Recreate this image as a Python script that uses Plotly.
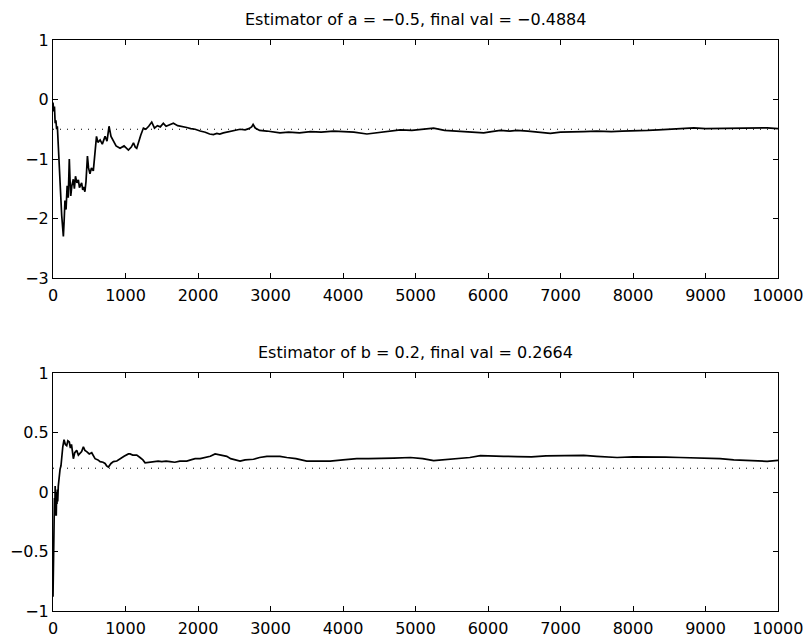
import plotly.graph_objects as go

# ---- data ----
iter_a = [0, 10, 20, 30, 40, 50, 60, 70, 80, 90, 100, 110, 120, 130, 143, 155, 165, 180, 195, 210,
          225, 235, 245, 260, 280, 295, 310, 330, 350, 365, 380, 395, 410, 425, 440, 455, 475, 490,
          510, 530, 556, 575, 600, 620, 650, 680, 718, 745, 773, 800, 833, 870, 925, 980, 1040,
          1080, 1110, 1135, 1155, 1180, 1210, 1247, 1280, 1320, 1362, 1400, 1440, 1480, 1522,
          1560, 1600, 1660, 1720, 1780, 1845, 1900, 1960, 2030, 2100, 2160, 2212, 2260, 2300,
          2350, 2397, 2450, 2500, 2580, 2650, 2700, 2740, 2760, 2790, 2850, 2950, 3050, 3130,
          3250, 3400, 3550, 3700, 3870, 4000, 4150, 4330, 4500, 4650, 4790, 4950, 5100, 5250,
          5400, 5550, 5700, 5850, 5940, 6050, 6170, 6300, 6400, 6550, 6700, 6860, 7000, 7150,
          7320, 7500, 7700, 7850, 8010, 8200, 8350, 8470, 8650, 8840, 9000, 9200, 9390, 9550,
          9700, 9850, 10000]
est_a = [-0.05, -0.2, -0.12, -0.40, -0.35, -0.50, -0.45, -0.75, -0.85, -1.05, -1.35, -1.70, -1.95,
         -2.10, -2.30, -2.00, -1.70, -1.85, -1.45, -1.65, -1.00, -1.35, -1.62, -1.45, -1.34, -1.50,
         -1.29, -1.40, -1.35, -1.48, -1.42, -1.40, -1.52, -1.47, -1.55, -1.38, -0.95, -1.15, -1.25,
         -1.15, -1.20, -0.95, -0.62, -0.72, -0.68, -0.75, -0.62, -0.70, -0.45, -0.62, -0.70, -0.78,
         -0.82, -0.78, -0.85, -0.80, -0.73, -0.80, -0.82, -0.70, -0.60, -0.48, -0.50, -0.45, -0.38,
         -0.48, -0.44, -0.46, -0.40, -0.45, -0.43, -0.40, -0.44, -0.45, -0.47, -0.49, -0.50, -0.53,
         -0.55, -0.58, -0.59, -0.57, -0.58, -0.56, -0.55, -0.54, -0.52, -0.50, -0.51, -0.49, -0.46,
         -0.42, -0.48, -0.52, -0.53, -0.55, -0.56, -0.55, -0.56, -0.54, -0.55, -0.53, -0.54, -0.55,
         -0.58, -0.55, -0.53, -0.51, -0.52, -0.50, -0.48, -0.52, -0.53, -0.54, -0.55, -0.56, -0.54,
         -0.52, -0.53, -0.52, -0.53, -0.55, -0.57, -0.55, -0.54, -0.54, -0.53, -0.54, -0.53, -0.53,
         -0.52, -0.51, -0.50, -0.49, -0.476, -0.49, -0.485, -0.48, -0.485, -0.48, -0.477, -0.4884]

iter_b = [0, 5, 10, 15, 20, 25, 30, 35, 40, 45, 50, 55, 60, 65, 73, 85, 97, 110, 120, 135, 152, 170,
          189, 205, 225, 240, 255, 268, 281, 300, 327, 350, 373, 395, 419, 440, 465, 500, 534, 560,
          580, 620, 650, 690, 718, 740, 764, 800, 833, 880, 925, 980, 1040, 1063, 1100, 1155, 1200,
          1240, 1270, 1320, 1385, 1450, 1500, 1560, 1615, 1680, 1750, 1845, 1900, 1960, 2030, 2100,
          2170, 2236, 2300, 2397, 2450, 2520, 2580, 2650, 2765, 2850, 2950, 3050, 3130, 3225, 3350,
          3500, 3650, 3823, 4000, 4190, 4350, 4515, 4700, 4930, 5100, 5250, 5400, 5570, 5750, 5895,
          6050, 6215, 6400, 6600, 6800, 6998, 7150, 7320, 7500, 7650, 7780, 8000, 8240, 8450, 8650,
          8840, 9000, 9200, 9390, 9600, 9850, 10000]
est_b = [-0.88, -0.60, -0.25, -0.35, -0.05, -0.20, 0.05, -0.15, -0.05, -0.20, 0.0, -0.10, 0.02, -0.08,
         0.05, 0.15, 0.19, 0.22, 0.30, 0.38, 0.44, 0.40, 0.39, 0.43, 0.42, 0.37, 0.40, 0.33, 0.28, 0.33,
         0.35, 0.31, 0.33, 0.34, 0.38, 0.35, 0.34, 0.32, 0.33, 0.30, 0.28, 0.27, 0.255, 0.25, 0.24,
         0.22, 0.21, 0.24, 0.255, 0.26, 0.28, 0.30, 0.32, 0.32, 0.31, 0.31, 0.29, 0.27, 0.246, 0.25,
         0.25, 0.26, 0.255, 0.26, 0.255, 0.25, 0.26, 0.26, 0.27, 0.28, 0.28, 0.29, 0.30, 0.32, 0.31,
         0.30, 0.28, 0.27, 0.26, 0.27, 0.275, 0.29, 0.30, 0.30, 0.30, 0.29, 0.28, 0.26, 0.26, 0.26,
         0.27, 0.28, 0.28, 0.28, 0.285, 0.29, 0.28, 0.263, 0.27, 0.28, 0.29, 0.305, 0.30, 0.30, 0.297,
         0.295, 0.303, 0.305, 0.305, 0.307, 0.30, 0.295, 0.29, 0.295, 0.297, 0.293, 0.29, 0.286,
         0.285, 0.28, 0.27, 0.265, 0.258, 0.2664]

true_a = -0.5
true_b = 0.2
x_range = [0, 10000]
title_a = "Estimator of a = \u22120.5, final val = \u22120.4884"
title_b = "Estimator of b = 0.2, final val = 0.2664"

assert len(iter_a) == len(est_a)
assert len(iter_b) == len(est_b)

FONT = "DejaVu Sans, Liberation Sans, Arial, sans-serif"

fig = go.Figure()
fig.add_trace(go.Scatter(x=iter_a, y=est_a, mode="lines", line=dict(color="black", width=1.7),
                         xaxis="x", yaxis="y", showlegend=False))
fig.add_trace(go.Scatter(x=x_range, y=[true_a, true_a], mode="lines",
                         line=dict(color="black", width=1, dash="1px,6px"),
                         xaxis="x", yaxis="y", showlegend=False))
fig.add_trace(go.Scatter(x=iter_b, y=est_b, mode="lines", line=dict(color="black", width=1.7),
                         xaxis="x2", yaxis="y2", showlegend=False))
fig.add_trace(go.Scatter(x=x_range, y=[true_b, true_b], mode="lines",
                         line=dict(color="black", width=1, dash="1px,6px"),
                         xaxis="x2", yaxis="y2", showlegend=False))

axis_common = dict(showgrid=False, zeroline=False, showline=True, linecolor="black", linewidth=1,
                   mirror="ticks", ticks="inside", ticklen=5, tickcolor="black", tickwidth=1,
                   automargin=False,
                   tickfont=dict(family=FONT, size=16, color="black"))

fig.update_layout(
    width=809, height=641,
    margin=dict(l=53, r=31, t=40, b=30),
    plot_bgcolor="white", paper_bgcolor="white",
    xaxis=dict(domain=[0, 1], range=x_range, dtick=1000, tick0=0, tickformat="d", anchor="y",
               ticklabelstandoff=3, **axis_common),
    yaxis=dict(domain=[0.5832, 1], range=[-3, 1], dtick=1, anchor="x", **axis_common),
    xaxis2=dict(domain=[0, 1], range=x_range, dtick=1000, tick0=0, tickformat="d", anchor="y2",
                ticklabelstandoff=3, **axis_common),
    yaxis2=dict(domain=[0, 0.4168], range=[-1, 1], dtick=0.5, anchor="x2", **axis_common),
    annotations=[
        dict(text=title_a, xref="x domain", yref="y domain", x=0.5, y=1, yshift=9,
             xanchor="center", yanchor="bottom", showarrow=False,
             font=dict(family=FONT, size=16, color="black")),
        dict(text=title_b, xref="x2 domain", yref="y2 domain", x=0.5, y=1, yshift=9,
             xanchor="center", yanchor="bottom", showarrow=False,
             font=dict(family=FONT, size=16, color="black")),
    ],
)

fig.write_html("out.html")
